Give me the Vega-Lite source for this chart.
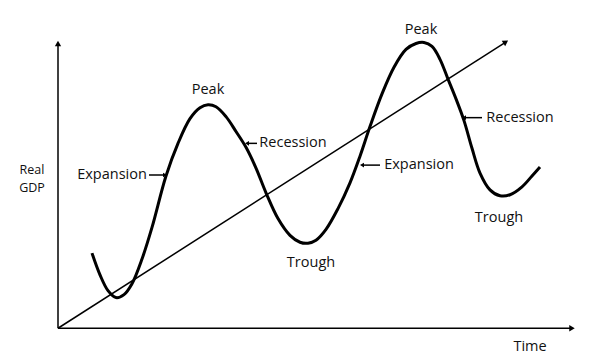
{
  "$schema": "https://vega.github.io/schema/vega-lite/v6.json",
  "width": 590,
  "height": 354,
  "autosize": {"type": "fit", "contains": "padding"},
  "padding": 0,
  "background": "white",
  "config": {"view": {"stroke": null}},
  "datasets": {
    "lines": [
      {"name": "GDP axis", "x": 58, "y": 22, "x2": 58, "y2": 308},
      {"name": "Time axis", "x": 58, "y": 22, "x2": 570, "y2": 22},
      {"name": "Trend", "x": 58, "y": 22, "x2": 505, "y2": 311}
    ],
    "cycle": [
      {"t": 92, "gdp": 98}, {"t": 100, "gdp": 76}, {"t": 108, "gdp": 60}, {"t": 116, "gdp": 53},
      {"t": 124, "gdp": 56}, {"t": 132, "gdp": 67}, {"t": 142, "gdp": 92}, {"t": 152, "gdp": 124},
      {"t": 166, "gdp": 176}, {"t": 178, "gdp": 209}, {"t": 190, "gdp": 234}, {"t": 200, "gdp": 245},
      {"t": 208, "gdp": 248}, {"t": 216, "gdp": 246}, {"t": 226, "gdp": 236}, {"t": 236, "gdp": 221},
      {"t": 246, "gdp": 205}, {"t": 256, "gdp": 184}, {"t": 266, "gdp": 159}, {"t": 278, "gdp": 133},
      {"t": 290, "gdp": 116}, {"t": 300, "gdp": 109}, {"t": 308, "gdp": 108}, {"t": 316, "gdp": 111},
      {"t": 326, "gdp": 122}, {"t": 338, "gdp": 143}, {"t": 350, "gdp": 169}, {"t": 360, "gdp": 196},
      {"t": 370, "gdp": 226}, {"t": 382, "gdp": 259}, {"t": 394, "gdp": 286}, {"t": 406, "gdp": 304},
      {"t": 416, "gdp": 310}, {"t": 424, "gdp": 311}, {"t": 432, "gdp": 307}, {"t": 440, "gdp": 294},
      {"t": 448, "gdp": 274}, {"t": 456, "gdp": 254}, {"t": 464, "gdp": 232}, {"t": 472, "gdp": 204},
      {"t": 480, "gdp": 179}, {"t": 490, "gdp": 162}, {"t": 500, "gdp": 156}, {"t": 510, "gdp": 157},
      {"t": 522, "gdp": 165}, {"t": 532, "gdp": 176}, {"t": 540, "gdp": 185}
    ],
    "labels": [
      {"label": "Peak", "x": 208, "y": 263},
      {"label": "Peak", "x": 421, "y": 324},
      {"label": "Recession", "x": 293, "y": 209},
      {"label": "Expansion", "x": 112, "y": 177},
      {"label": "Trough", "x": 311, "y": 88},
      {"label": "Expansion", "x": 419, "y": 187},
      {"label": "Recession", "x": 520, "y": 235},
      {"label": "Trough", "x": 499, "y": 134},
      {"label": "Time", "x": 530, "y": 3}
    ],
    "axislabel": [
      {"label": "Real", "x": 32, "y": 182},
      {"label": "GDP", "x": 32, "y": 164}
    ],
    "pointers": [
      {"name": "Expansion 1", "x": 149, "x2": 163, "y": 177, "tip": 165, "dir": "right"},
      {"name": "Recession 1", "x": 249, "x2": 257, "y": 209, "tip": 247, "dir": "left"},
      {"name": "Expansion 2", "x": 364, "x2": 380, "y": 187, "tip": 362, "dir": "left"},
      {"name": "Recession 2", "x": 466, "x2": 482, "y": 235, "tip": 464, "dir": "left"}
    ]
  },
  "layer": [
    {
      "data": {"name": "lines"},
      "mark": {"type": "rule", "color": "black", "strokeWidth": 1.5},
      "encoding": {
        "x": {"field": "x", "type": "quantitative", "scale": {"domain": [0, 590], "nice": false, "zero": false}, "axis": null},
        "y": {"field": "y", "type": "quantitative", "scale": {"domain": [0, 354], "nice": false, "zero": false}, "axis": null},
        "x2": {"field": "x2"},
        "y2": {"field": "y2"}
      }
    },
    {
      "data": {"name": "lines"},
      "transform": [{"filter": "datum.name === 'GDP axis'"}],
      "mark": {"type": "point", "shape": "triangle-up", "filled": true, "color": "black", "size": 40, "opacity": 1, "yOffset": -2},
      "encoding": {
        "x": {"field": "x2", "type": "quantitative"},
        "y": {"field": "y2", "type": "quantitative"}
      }
    },
    {
      "data": {"name": "lines"},
      "transform": [{"filter": "datum.name === 'Time axis'"}],
      "mark": {"type": "point", "shape": "triangle-right", "filled": true, "color": "black", "size": 40, "opacity": 1, "xOffset": 2},
      "encoding": {
        "x": {"field": "x2", "type": "quantitative"},
        "y": {"field": "y2", "type": "quantitative"}
      }
    },
    {
      "data": {"name": "lines"},
      "transform": [{"filter": "datum.name === 'Trend'"}],
      "mark": {"type": "point", "shape": "triangle", "angle": 57, "filled": true, "color": "black", "size": 40, "opacity": 1},
      "encoding": {
        "x": {"field": "x2", "type": "quantitative"},
        "y": {"field": "y2", "type": "quantitative"}
      }
    },
    {
      "data": {"name": "cycle"},
      "mark": {"type": "line", "color": "black", "strokeWidth": 3, "interpolate": "catmull-rom"},
      "encoding": {
        "x": {"field": "t", "type": "quantitative"},
        "y": {"field": "gdp", "type": "quantitative"}
      }
    },
    {
      "data": {"name": "pointers"},
      "mark": {"type": "rule", "color": "black", "strokeWidth": 1.5},
      "encoding": {
        "x": {"field": "x", "type": "quantitative"},
        "x2": {"field": "x2"},
        "y": {"field": "y", "type": "quantitative"}
      }
    },
    {
      "data": {"name": "pointers"},
      "transform": [{"filter": "datum.dir === 'right'"}],
      "mark": {"type": "point", "shape": "triangle-right", "filled": true, "color": "black", "size": 22, "opacity": 1},
      "encoding": {
        "x": {"field": "tip", "type": "quantitative"},
        "y": {"field": "y", "type": "quantitative"}
      }
    },
    {
      "data": {"name": "pointers"},
      "transform": [{"filter": "datum.dir === 'left'"}],
      "mark": {"type": "point", "shape": "triangle-left", "filled": true, "color": "black", "size": 22, "opacity": 1},
      "encoding": {
        "x": {"field": "tip", "type": "quantitative"},
        "y": {"field": "y", "type": "quantitative"}
      }
    },
    {
      "data": {"name": "labels"},
      "mark": {"type": "text", "font": "Open Sans", "fontSize": 14.5, "color": "#111", "align": "center", "baseline": "middle"},
      "encoding": {
        "x": {"field": "x", "type": "quantitative"},
        "y": {"field": "y", "type": "quantitative"},
        "text": {"field": "label"}
      }
    },
    {
      "data": {"name": "axislabel"},
      "mark": {"type": "text", "font": "Open Sans", "fontSize": 12.5, "color": "#111", "align": "center", "baseline": "middle"},
      "encoding": {
        "x": {"field": "x", "type": "quantitative"},
        "y": {"field": "y", "type": "quantitative"},
        "text": {"field": "label"}
      }
    }
  ]
}
